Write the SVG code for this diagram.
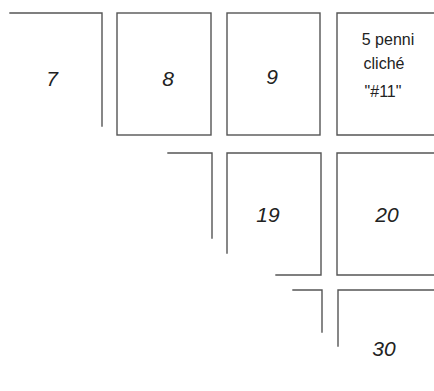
<svg xmlns="http://www.w3.org/2000/svg" width="434" height="391" viewBox="0 0 434 391">
<style>
.ln{fill:none;stroke:#555;stroke-width:1.4;stroke-linecap:square}
.num{font-family:"Liberation Sans",Arial,sans-serif;font-style:italic;font-size:21px;fill:#222;text-anchor:middle}
.note{font-family:"Liberation Sans",Arial,sans-serif;font-size:16px;fill:#222;text-anchor:middle}
</style>
<rect width="434" height="391" fill="#fff"/>
<g id="connectors"/>
<g id="n7"><path class="ln" d="M10,13 H102 V126"/><text class="num" x="52" y="86">7</text></g>
<g id="n8"><rect class="ln" x="117" y="13" width="94" height="122"/><text class="num" x="168" y="86">8</text></g>
<g id="n9"><rect class="ln" x="227" y="13" width="93" height="122"/><text class="num" x="272" y="84">9</text></g>
<g id="n11"><path class="ln" d="M434,13 H337 V135 H434"/>
<text class="note" x="388" y="45">5 penni</text>
<text class="note" x="384" y="69">cliché</text>
<text class="note" x="383" y="97">"#11"</text></g>
<g id="n18"><path class="ln" d="M168,153 H212 V238"/></g>
<g id="n19"><path class="ln" d="M227,253 V153 H321 V275 H276"/><text class="num" x="268" y="222">19</text></g>
<g id="n20"><path class="ln" d="M434,153 H337 V275 H434"/><text class="num" x="387" y="222">20</text></g>
<g id="n29"><path class="ln" d="M293,290 H322 V332"/></g>
<g id="n30"><path class="ln" d="M434,290 H338 V346"/><text class="num" x="384" y="356">30</text></g>
</svg>
